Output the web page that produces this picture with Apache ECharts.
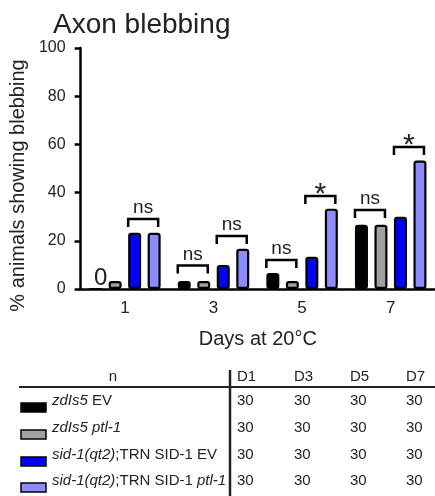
<!DOCTYPE html>
<html>
<head>
<meta charset="utf-8">
<script src="https://cdn.jsdelivr.net/npm/echarts@6/dist/echarts.min.js"></script>
<style>
  html, body { margin: 0; padding: 0; background: #fff; }
  #main { width: 435px; height: 496px; }
</style>
</head>
<body>
<div id="main"></div>
<script type="text/javascript">
    var days = ['1', '3', '5', '7'];
    var seriesNames = ['zdIs5 EV', 'zdIs5 ptl-1', 'sid-1(qt2);TRN SID-1 EV', 'sid-1(qt2);TRN SID-1 ptl-1'];
    var legendLabels = ['{i|zdIs5} EV', '{i|zdIs5 ptl-1}', '{i|sid-1(qt2)};TRN SID-1 EV', '{i|sid-1(qt2)};TRN SID-1 {i|ptl-1}'];
    var colors = ['#000000', '#a1a1a5', '#0000ff', '#8c8cff'];

    // % animals showing blebbing (n = 30 each)
    var zdEV = [0, 3.33, 6.67, 26.67];
    var zdPtl = [3.33, 3.33, 3.33, 26.67];
    var sidEV = [23.33, 10, 13.33, 30];
    var sidPtl = [23.33, 16.67, 33.33, 53.33];

    // significance brackets: day index, first bar, second bar, height, text
    var brDay = [0, 1, 1, 2, 2, 3, 3];
    var brFrom = [2, 0, 2, 0, 2, 0, 2];
    var brTo = [3, 1, 3, 1, 3, 1, 3];
    var brY = [29, 9.7, 22, 12, 38.6, 32.8, 58.9];
    var brText = ['ns', 'ns', 'ns', 'ns', '*', 'ns', '*'];

    // n table
    var tableHead = ['D1', 'D3', 'D5', 'D7'];
    var nValues = [
        [30, 30, 30, 30],
        [30, 30, 30, 30],
        [30, 30, 30, 30],
        [30, 30, 30, 30]
    ];

    var font = "'Liberation Sans', Arial, sans-serif";
    var txt = '#222';
    var barOffsets = [-29.25, -9.75, 9.75, 29.25];

    var myChart = echarts.init(document.getElementById('main'));

    var graphics = [
        {type: 'line', shape: {x1: 19, y1: 387, x2: 435, y2: 387}, style: {stroke: '#222', lineWidth: 2}},
        {type: 'line', shape: {x1: 230, y1: 370, x2: 230, y2: 496}, style: {stroke: '#222', lineWidth: 2.5}},
        {type: 'text', x: 113, y: 377, style: {text: 'n', fontSize: 15, fontFamily: font, fill: txt, align: 'center', verticalAlign: 'middle'}}
    ];
    var colX = [237, 294, 350, 406];
    var rowY = [401, 428, 455, 481];
    tableHead.forEach(function (h, j) {
        graphics.push({type: 'text', x: colX[j], y: 377, style: {text: h, fontSize: 15, fontFamily: font, fill: txt, align: 'left', verticalAlign: 'middle'}});
    });
    legendLabels.forEach(function (lab, i) {
        graphics.push({type: 'rect', shape: {x: 21, y: rowY[i] + 2, width: 25, height: 9}, style: {fill: colors[i], stroke: '#000', lineWidth: 1.5}});
        graphics.push({type: 'text', x: 52, y: rowY[i], style: {
            text: lab, fontSize: 15, fontFamily: font, fill: txt, align: 'left', verticalAlign: 'middle',
            rich: {i: {fontStyle: 'italic', fontSize: 15, fontFamily: font, fill: txt}}
        }});
        nValues[i].forEach(function (v, j) {
            graphics.push({type: 'text', x: colX[j], y: rowY[i], style: {text: String(v), fontSize: 15, fontFamily: font, fill: txt, align: 'left', verticalAlign: 'middle'}});
        });
    });

    var barStyle = function (c) {
        return {color: c, borderColor: '#000', borderWidth: 2.2, borderRadius: 2};
    };

    var option = {
        animation: false,
        textStyle: {fontFamily: font},
        title: {
            text: 'Axon blebbing',
            left: 48,
            top: 6,
            textStyle: {fontSize: 28, fontWeight: 'normal', color: txt, fontFamily: font}
        },
        grid: {left: 80, right: -7, top: 48, bottom: 207},
        xAxis: {
            type: 'category',
            data: days,
            name: 'Days at 20°C',
            nameLocation: 'middle',
            nameGap: 40,
            nameTextStyle: {fontSize: 20, color: txt},
            axisLine: {lineStyle: {color: '#000', width: 2.5}},
            axisTick: {alignWithLabel: true, length: 7, lineStyle: {color: '#000', width: 2.5}},
            axisLabel: {fontSize: 17, color: txt, margin: 11}
        },
        yAxis: {
            type: 'value',
            min: 0,
            max: 100,
            interval: 20,
            name: '% animals showing blebbing',
            nameLocation: 'middle',
            nameGap: 44,
            nameTextStyle: {fontSize: 20, color: txt, padding: [0, 34, 0, 0]},
            splitLine: {show: false},
            axisLine: {show: true, lineStyle: {color: '#000', width: 2.5}},
            axisTick: {show: true, length: 6, lineStyle: {color: '#000', width: 2.5}},
            axisLabel: {fontSize: 16, color: txt, margin: 15}
        },
        series: [
            {
                name: seriesNames[0], type: 'bar', data: zdEV, barWidth: 13, barGap: '50%',
                itemStyle: barStyle(colors[0]),
                label: {
                    show: true, position: 'top', distance: 0, offset: [5, 2],
                    fontSize: 24, color: txt,
                    formatter: function (p) { return p.value === 0 ? '0' : ''; }
                }
            },
            {name: seriesNames[1], type: 'bar', data: zdPtl, barWidth: 13, barGap: '50%', itemStyle: barStyle(colors[1])},
            {name: seriesNames[2], type: 'bar', data: sidEV, barWidth: 13, barGap: '50%', itemStyle: barStyle(colors[2])},
            {name: seriesNames[3], type: 'bar', data: sidPtl, barWidth: 13, barGap: '50%', itemStyle: barStyle(colors[3])},
            {
                type: 'custom',
                silent: true,
                z: 5,
                data: brDay.map(function (d, i) { return [d, brY[i]]; }),
                encode: {x: 0, y: 1},
                renderItem: function (params, api) {
                    var i = params.dataIndex;
                    var p = api.coord([api.value(0), api.value(1)]);
                    var x1 = p[0] + barOffsets[brFrom[i]] - 6.5;
                    var x2 = p[0] + barOffsets[brTo[i]] + 4;
                    var y = p[1];
                    var star = brText[i] === '*';
                    return {
                        type: 'group',
                        children: [
                            {
                                type: 'polyline',
                                shape: {points: [[x1, y + 8], [x1, y], [x2, y], [x2, y + 8]]},
                                style: {stroke: '#000', lineWidth: 2.5, fill: null}
                            },
                            {
                                type: 'text',
                                x: (x1 + x2) / 2,
                                y: star ? y - 1 : y - 11,
                                style: {
                                    text: brText[i], fontSize: star ? 30 : 19, fontFamily: font,
                                    fill: txt, align: 'center', verticalAlign: 'middle'
                                }
                            }
                        ]
                    };
                }
            }
        ],
        graphic: graphics
    };

    myChart.setOption(option);
</script>
</body>
</html>
